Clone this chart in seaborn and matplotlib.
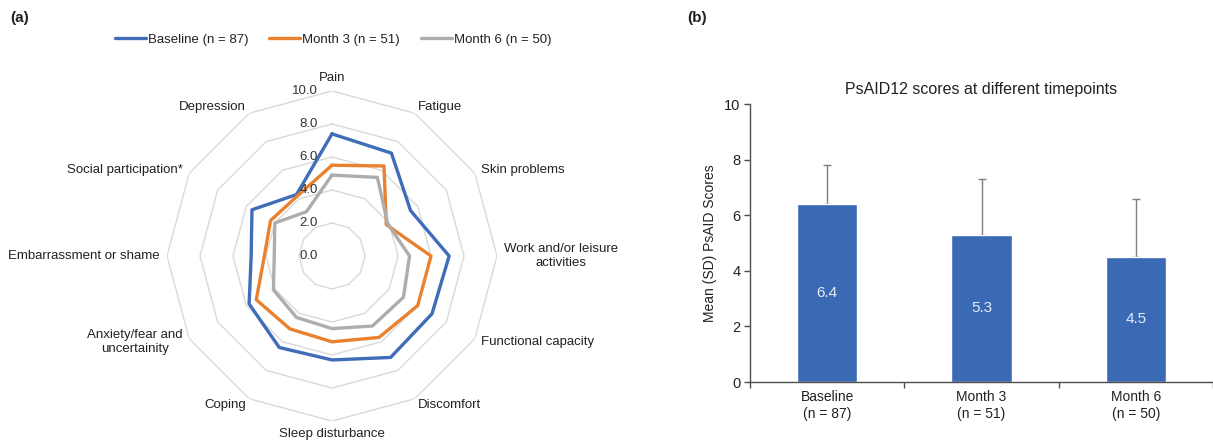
import numpy as np
import pandas as pd
import matplotlib
matplotlib.use("Agg")
import matplotlib.pyplot as plt
import matplotlib.transforms as mtransforms
import seaborn as sns

# ---------------- data ----------------
domains = ["Pain", "Fatigue", "Skin problems", "Work and/or leisure\nactivities",
           "Functional capacity", "Discomfort", "Sleep disturbance", "Coping",
           "Anxiety/fear and\nuncertainity", "Embarrassment or shame",
           "Social participation*", "Depression"]
baseline = [7.4, 7.2, 5.5, 7.1, 7.0, 7.1, 6.3, 6.4, 5.8, 4.9, 5.6, 4.3]
month3 = [5.5, 6.3, 3.8, 6.0, 6.0, 5.7, 5.2, 5.1, 5.3, 4.1, 4.3, 4.2]
month6 = [4.9, 5.5, 3.9, 4.7, 5.0, 4.9, 4.4, 4.3, 4.1, 3.5, 4.0, 3.1]
series_labels = ["Baseline (n = 87)", "Month 3 (n = 51)", "Month 6 (n = 50)"]
ring_ticks = [0, 2, 4, 6, 8, 10]

timepoints = ["Baseline", "Month 3", "Month 6"]
n_values = [87, 51, 50]
mean_scores = [6.4, 5.3, 4.5]
sd_scores = [1.4, 2.0, 2.1]

# ---------------- style ----------------
sns.set_theme(style="white")
plt.rcParams["font.family"] = ["Liberation Sans", "DejaVu Sans"]
TXT = "#222222"
colors = ["#3F6DB8", "#E9812F", "#ADADAD"]
BAR = "#3B6AB5"

fig = plt.figure(figsize=(12.13, 4.48), dpi=100)

# ---------------- (a) radar ----------------
cx, cy, R = 332, 256, 165
W, H = 1213, 448
axr = fig.add_axes([(cx - R) / W, (H - cy - R) / H, 2 * R / W, 2 * R / H], projection="polar")
axr.set_theta_zero_location("N")
axr.set_theta_direction(-1)
axr.set_ylim(0, ring_ticks[-1])
axr.grid(False)
axr.spines["polar"].set_visible(False)
axr.set_xticks([])
axr.set_yticks([])
axr.set_facecolor("none")

k = len(domains)
angles = np.linspace(0, 2 * np.pi, k, endpoint=False)
angles_closed = np.append(angles, 2 * np.pi)

for r in ring_ticks[1:]:
    axr.plot(angles_closed, [r] * (k + 1), color="#D9D9D9", lw=1.0, zorder=1)

for vals, lab, c in zip([baseline, month3, month6], series_labels, colors):
    df = pd.DataFrame({"theta": angles_closed, "score": list(vals) + [vals[0]]})
    sns.lineplot(data=df, x="theta", y="score", ax=axr, sort=False, estimator=None,
                 color=c, lw=2.4, label=lab, zorder=3)
axr.set_xlabel("")
axr.set_ylabel("")

# radial value labels
off = mtransforms.offset_copy(axr.transData, fig=fig, x=-14, y=0, units="dots")
for r in ring_ticks:
    axr.text(0, r, f"{r:.1f}", transform=off, ha="right", va="center",
             fontsize=9.5, color="#333333", zorder=4)

# category labels
lab_r = ring_ticks[-1] * 1.045
for ang, name in zip(angles, domains):
    deg = np.degrees(ang) % 360
    if deg < 1 or deg > 359:
        ha, va = "center", "bottom"
    elif abs(deg - 180) < 1:
        ha, va = "center", "top"
    elif deg < 180:
        ha, va = "left", "center"
    else:
        ha, va = "right", "center"
    axr.text(ang, lab_r, name, ha=ha, va=va, multialignment="center",
             fontsize=9.5, color=TXT)

handles, labels = axr.get_legend_handles_labels()
if axr.get_legend() is not None:
    axr.get_legend().remove()
fig.legend(handles, labels, loc="center", bbox_to_anchor=(333 / W, 1 - 40 / H),
           ncol=3, frameon=False, fontsize=9.5, handlelength=2.35,
           handletextpad=0.15, columnspacing=1.6, labelcolor=TXT)

fig.text(10 / W, 1 - 18 / H, "(a)", fontsize=11, fontweight="bold", color=TXT,
         ha="left", va="center")
fig.text(697 / W, 1 - 18 / H, "(b)", fontsize=11, fontweight="bold", color=TXT,
         ha="center", va="center")

# ---------------- (b) bar chart ----------------
axb = fig.add_axes([750 / W, (H - 382) / H, (W - 750) / W, 278 / H])
bar_df = pd.DataFrame({"tp": [f"{t}\n(n = {n})" for t, n in zip(timepoints, n_values)],
                       "mean": mean_scores})
sns.barplot(data=bar_df, x="tp", y="mean", ax=axb, color=BAR, width=0.39,
            saturation=1, zorder=2)
xpos = np.arange(len(timepoints))
axb.errorbar(xpos, mean_scores, yerr=[np.zeros(len(sd_scores)), sd_scores],
             fmt="none", ecolor="#7F7F7F", elinewidth=1.0, capsize=3, capthick=1.0, zorder=1)
for x, m in zip(xpos, mean_scores):
    axb.text(x, m / 2, f"{m:.1f}", ha="center", va="center", fontsize=11,
             color="#E6EBF5")

axb.set_ylim(0, 10)
axb.set_xlim(-0.5, len(timepoints) - 0.5)
axb.set_yticks(range(0, 11, 2))
axb.set_xlabel("")
axb.set_ylabel("Mean (SD) PsAID Scores", fontsize=10, color=TXT, labelpad=5)
axb.set_title("PsAID12 scores at different timepoints", fontsize=11.5, color=TXT, pad=7)
axb.tick_params(axis="y", which="major", direction="out", length=4, width=1,
                color="#4D4D4D", labelsize=10.5, labelcolor=TXT, left=True, pad=3)
axb.tick_params(axis="x", which="major", length=0, labelsize=10, labelcolor=TXT, pad=6)
axb.set_xticks(np.arange(-0.5, len(timepoints)), minor=True)
axb.tick_params(axis="x", which="minor", direction="out", length=4, width=1,
                color="#4D4D4D", bottom=True)
for s in ["top", "right"]:
    axb.spines[s].set_visible(False)
for s in ["left", "bottom"]:
    axb.spines[s].set_color("#4D4D4D")
    axb.spines[s].set_linewidth(1.0)
axb.set_facecolor("none")

fig.savefig("out.png", dpi=100, facecolor="white")
